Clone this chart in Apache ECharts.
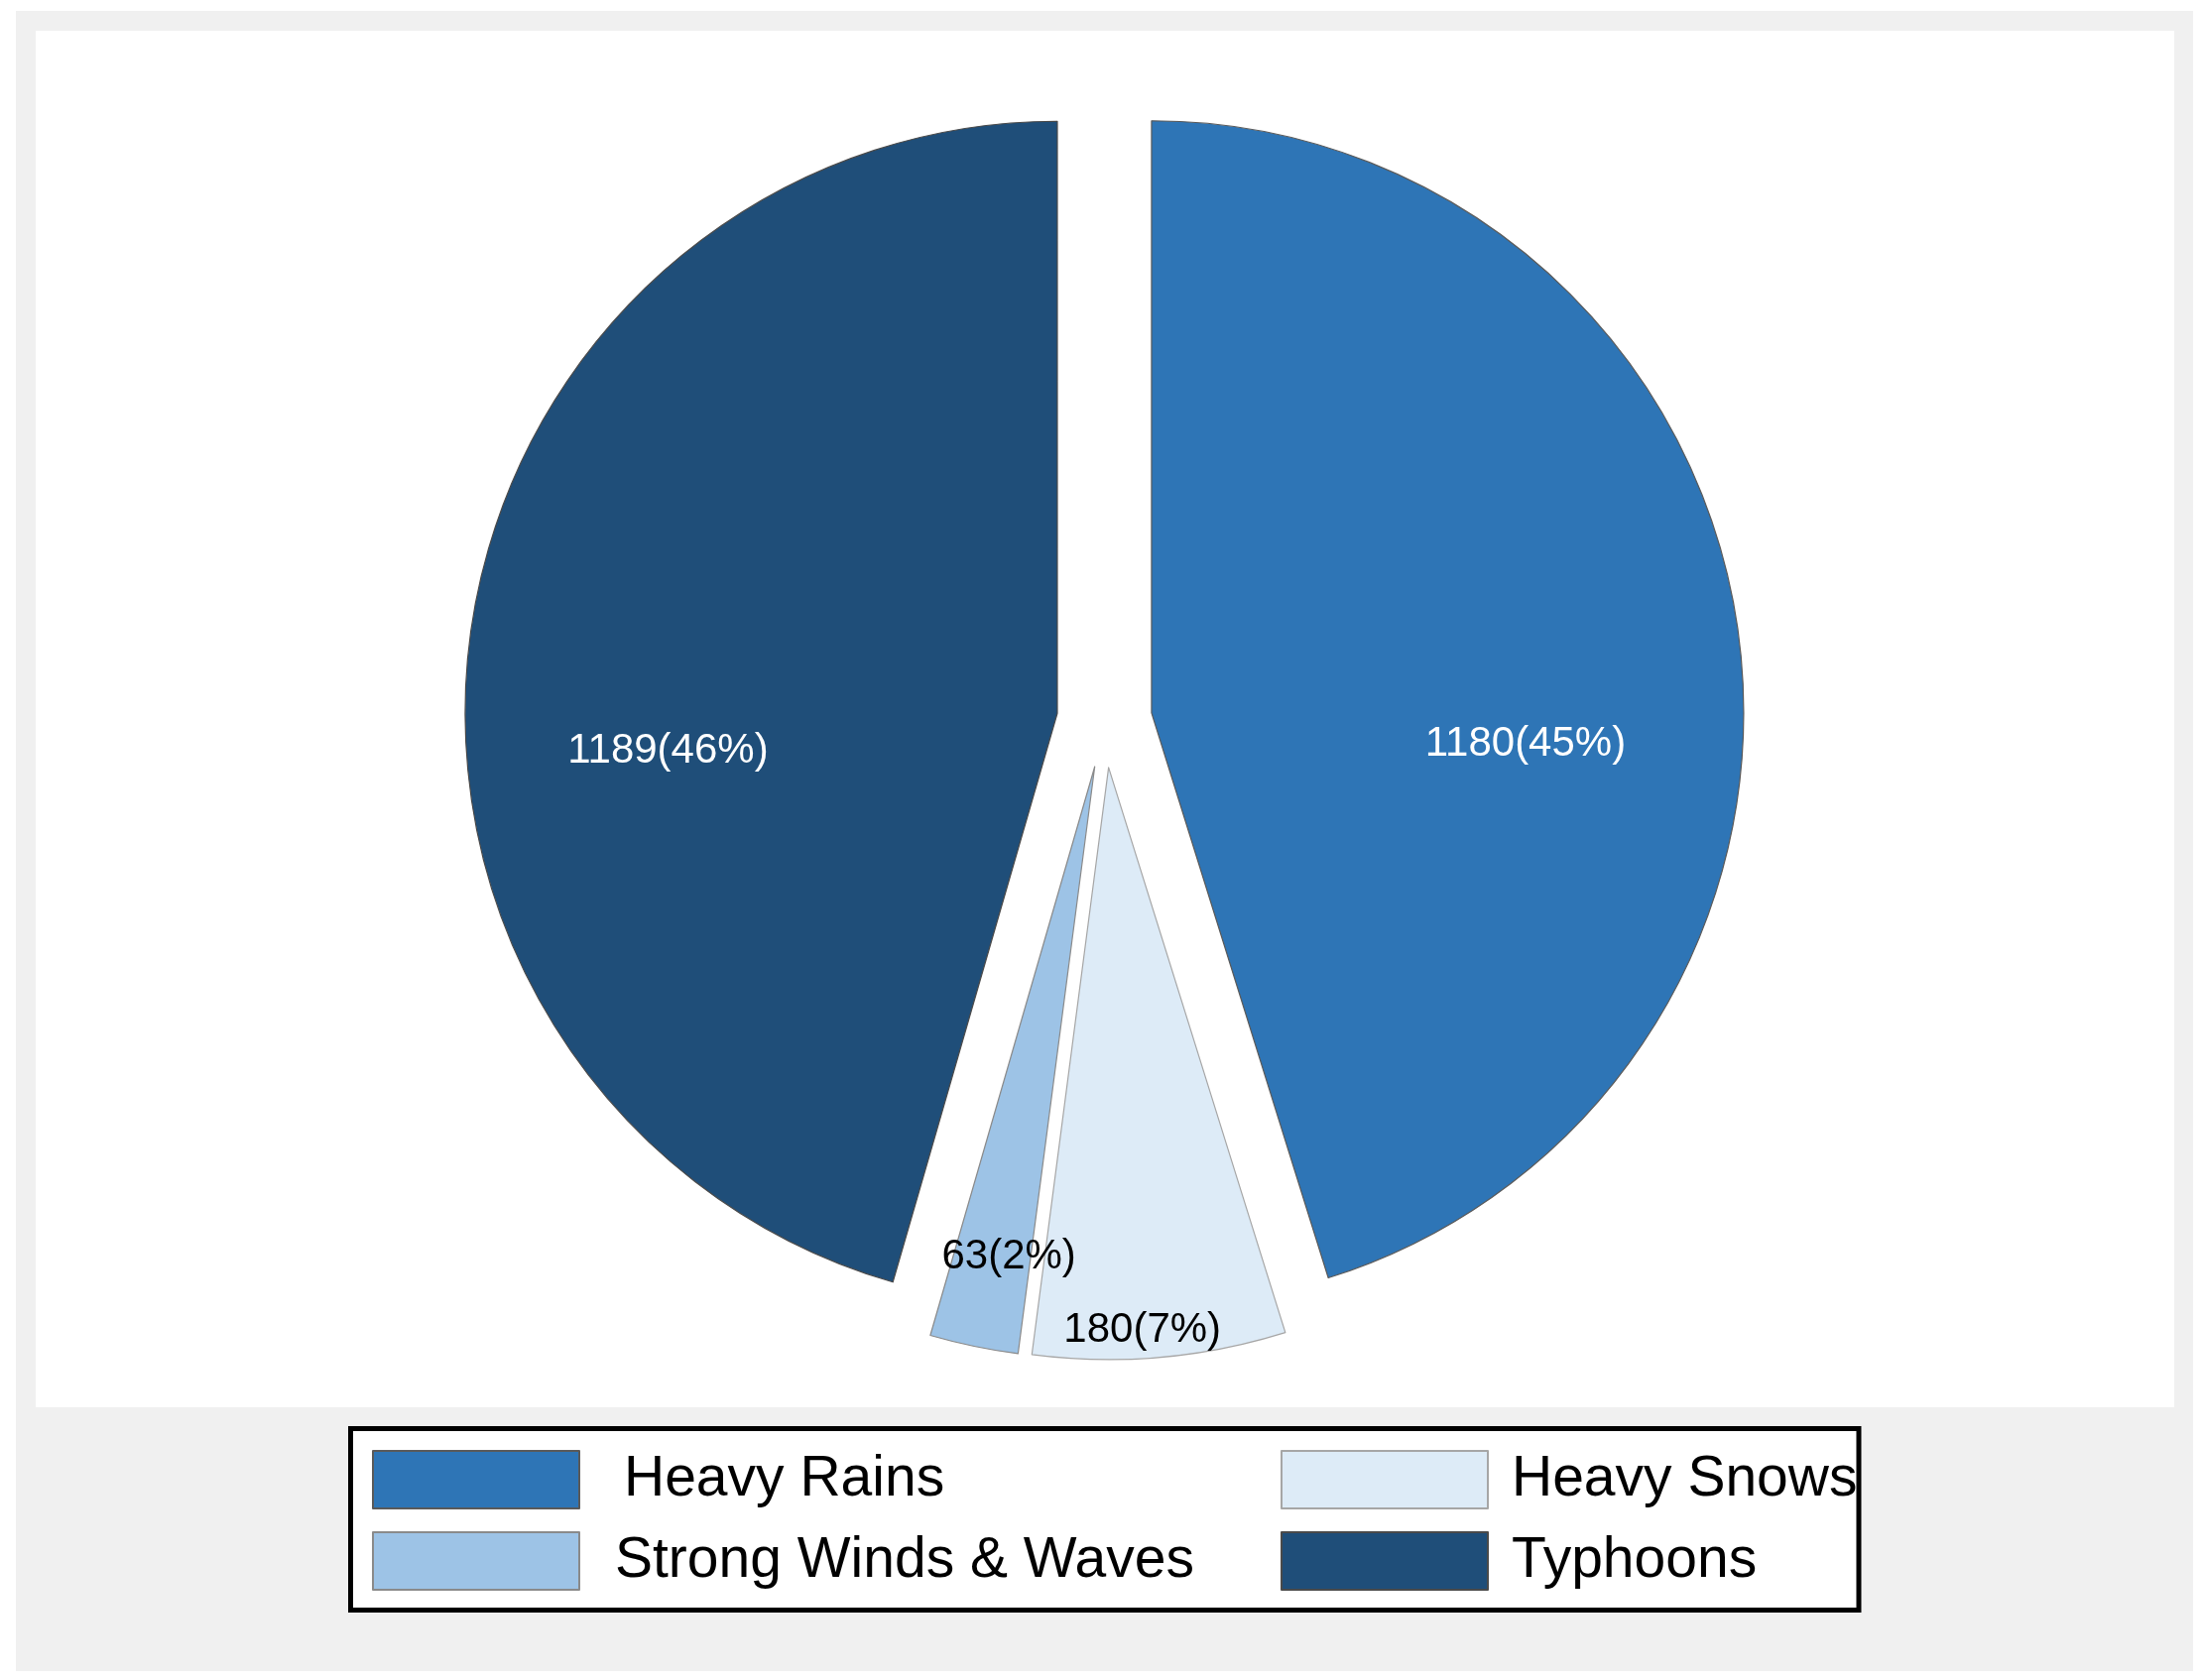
<!DOCTYPE html>
<html>
<head>
<meta charset="utf-8">
<script src="https://cdn.jsdelivr.net/npm/echarts@6/dist/echarts.min.js"></script>
<style>
html,body{margin:0;padding:0;background:#fff;}
#chart{width:2220px;height:1694px;}
</style>
</head>
<body>
<div id="chart"></div>
<script>
// ---- data ----
var categories = ['Heavy Rains', 'Heavy Snows', 'Strong Winds & Waves', 'Typhoons'];
var values = [1180, 180, 63, 1189];

// ---- styles (not data) ----
var colors = ['#2e75b6', '#ddebf7', '#9dc3e6', '#1f4e79'];
var borderColors = ['#5a5a5a', '#a6a6a6', '#8a8a8a', '#4a4a4a'];
var labelColors = ['#ffffff', '#000000', '#000000', '#ffffff'];
var labelShift = [[79, 77], [8, 267], [-25, 199], [-94, 80]];

var FONT = '"Liberation Sans", Arial, sans-serif';

var pieData = categories.map(function (name, i) {
  var st = { color: colors[i], borderColor: borderColors[i], borderWidth: 1.2 };
  return {
    name: name,
    value: values[i],
    selected: true,
    itemStyle: st,
    select: { itemStyle: st },
    label: { color: labelColors[i] }
  };
});

var chart = echarts.init(document.getElementById('chart'), null, { renderer: 'canvas' });
chart.setOption({
  animation: false,
  backgroundColor: '#ffffff',
  graphic: [
    { type: 'rect', z: -10, shape: { x: 16, y: 11, width: 2195, height: 1674 }, style: { fill: '#f0f0f0' }, silent: true },
    { type: 'rect', z: -9, shape: { x: 36, y: 31, width: 2156, height: 1388 }, style: { fill: '#ffffff' }, silent: true },
    { type: 'rect', z: -8, shape: { x: 353.5, y: 1440.5, width: 1520.5, height: 183 }, style: { fill: '#ffffff' }, silent: true },
    { type: 'rect', z: 100, shape: { x: 353.5, y: 1440.5, width: 1520.5, height: 183 }, style: { fill: 'none', stroke: '#000000', lineWidth: 5 }, silent: true }
  ],
  legend: [
    {
      orient: 'vertical',
      left: 375, top: 1462,
      padding: 0,
      itemWidth: 208, itemHeight: 58, itemGap: 22,
      selectedMode: false,
      icon: 'rect',
      data: [
        { name: categories[0], textStyle: { padding: [0, 0, 0, 40] } },
        { name: categories[2], textStyle: { padding: [0, 0, 0, 31] } }
      ],
      textStyle: { fontFamily: FONT, fontSize: 57, color: '#000', lineHeight: 58 }
    },
    {
      orient: 'vertical',
      left: 1291, top: 1462,
      padding: 0,
      itemWidth: 208, itemHeight: 58, itemGap: 22,
      selectedMode: false,
      icon: 'rect',
      data: [
        { name: categories[1], textStyle: { padding: [0, 0, 0, 19] } },
        { name: categories[3], textStyle: { padding: [0, 0, 0, 19] } }
      ],
      textStyle: { fontFamily: FONT, fontSize: 57, color: '#000', lineHeight: 58 }
    }
  ],
  series: [{
    type: 'pie',
    center: [1113.5, 726],
    radius: [0, 597],
    startAngle: 90,
    clockwise: true,
    selectedMode: 'multiple',
    selectedOffset: 48,
    percentPrecision: 0,
    avoidLabelOverlap: false,
    emphasis: { disabled: true },
    label: {
      show: true,
      position: 'inside',
      formatter: '{c}({d}%)',
      fontFamily: FONT,
      fontSize: 42
    },
    labelLine: { show: false },
    labelLayout: function (p) {
      var s = labelShift[p.dataIndex];
      return { dx: s[0], dy: s[1] };
    },
    data: pieData
  }]
});
</script>
</body>
</html>
